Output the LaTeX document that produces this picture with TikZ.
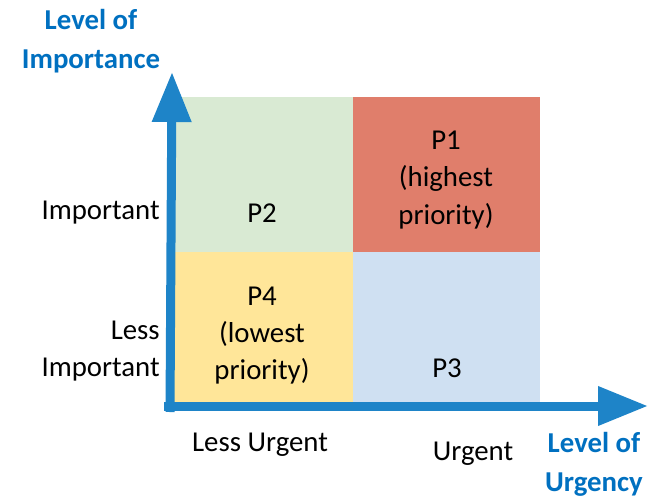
\documentclass[tikz,border=0pt]{standalone}
\usepackage{fontspec}
\setmainfont{Carlito}
\usetikzlibrary{arrows.meta}

\definecolor{axisblue}{RGB}{30,132,200}
\definecolor{titleblue}{RGB}{0,112,192}
\definecolor{quadgreen}{RGB}{217,234,211}
\definecolor{quadred}{RGB}{224,126,107}
\definecolor{quadyellow}{RGB}{255,230,153}
\definecolor{quadblue}{RGB}{207,224,242}

\tikzset{
  axis/.style={line width=6.75pt,color=axisblue,-{Triangle[length=37.5pt,width=28pt]}},
  lbl/.style={font=\fontsize{21.6}{27.8}\selectfont,align=center,inner sep=0pt},
  ttl/.style={font=\fontsize{21.6}{29}\selectfont\bfseries,text=titleblue,align=center,inner sep=0pt}
}

\begin{document}
\begin{tikzpicture}[x=0.75pt,y=-0.75pt]
\useasboundingbox (0,0) rectangle (656,499);

\coordinate (O) at (170,406);
\coordinate (I) at (172,72);
\coordinate (U) at (648,406);

% quadrants
\fill[quadgreen] (172,97) rectangle (353,252);
\fill[quadred] (353,97) rectangle (540,252);
\fill[quadyellow] (172,252) rectangle (353,406);
\fill[quadblue] (353,252) rectangle (540,406);

% axes
\draw[axis] ([yshift=-4.5]O) -- (I);
\draw[axis] ([xshift=-4.5]O) -- (U);

\node[lbl] (p1) at (446,180) {P1\\(highest\\priority)};
\node[lbl] (p2) at (262,213) {P2};
\node[lbl] (p3) at (447,368) {P3};
\node[lbl] (p4) at (262,336) {P4\\(lowest\\priority)};

\node[lbl,anchor=east,align=right] (imp) at (160,213) {Important};
\node[lbl,anchor=east,align=right] (limp) at (160,351) {Less\\Important};
\node[lbl] (lurg) at (260,445) {Less Urgent};
\node[lbl] (urg) at (473,454) {Urgent};

\node[ttl] (ytitle) at (91,41) {Level of\\Importance};
\node[ttl] (xtitle) at (594,464) {Level of\\Urgency};

\end{tikzpicture}
\end{document}
